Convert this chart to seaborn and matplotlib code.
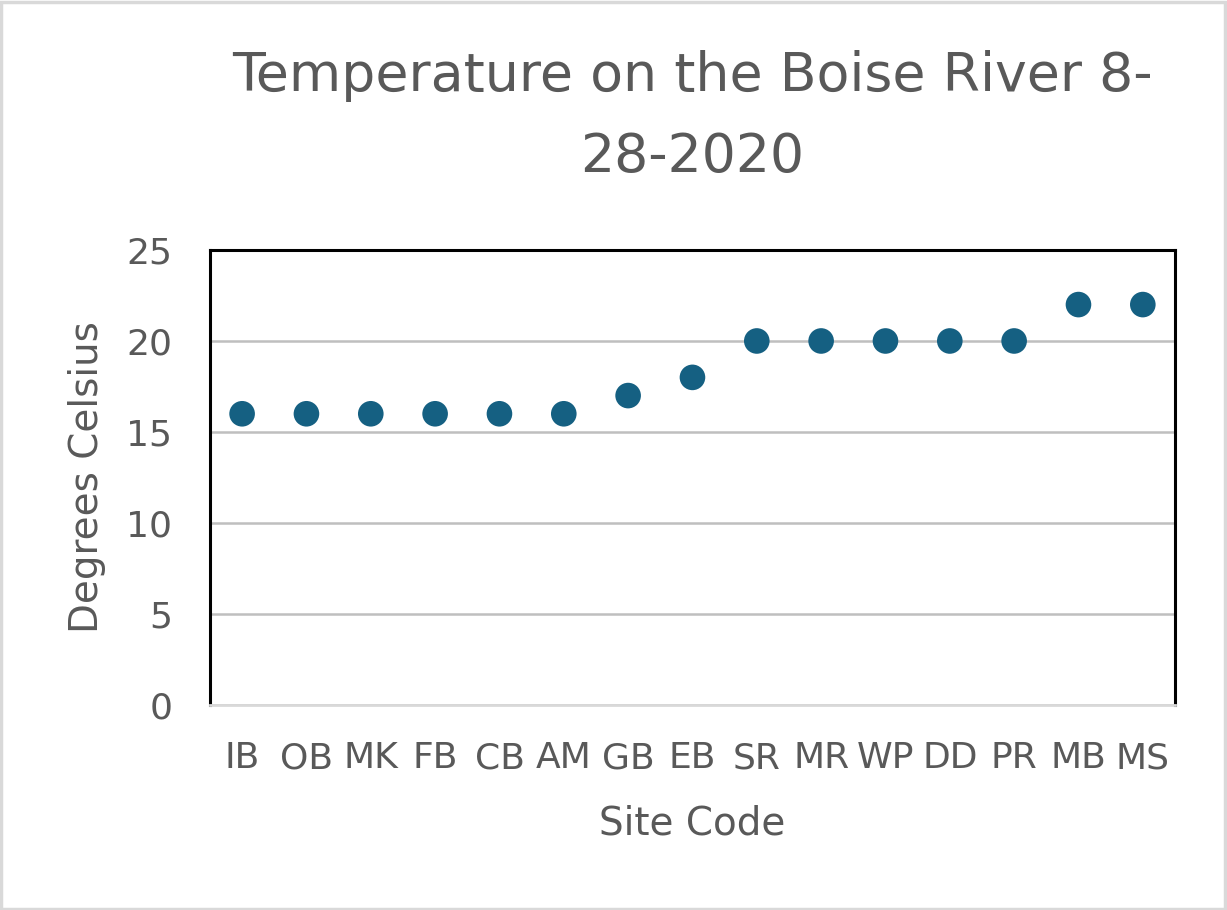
import matplotlib
matplotlib.use("Agg")
import matplotlib.pyplot as plt
import seaborn as sns
import pandas as pd

sites = ["IB", "OB", "MK", "FB", "CB", "AM", "GB", "EB",
         "SR", "MR", "WP", "DD", "PR", "MB", "MS"]
temps = [16, 16, 16, 16, 16, 16, 17, 18, 20, 20, 20, 20, 20, 22, 22]
y_ticks = [0, 5, 10, 15, 20, 25]

df = pd.DataFrame({"Site Code": sites, "Degrees Celsius": temps})

sns.set_style("white")
plt.rcParams['font.family'] = ['DejaVu Sans']
text_color = "#595959"

fig = plt.figure(figsize=(12.27, 9.10), dpi=100)
ax = fig.add_axes([0.1711, 0.2253, 0.7865, 0.5])

sns.scatterplot(data=df, x="Site Code", y="Degrees Celsius", ax=ax,
                color="#156082", s=340, edgecolor="none", zorder=3)

ax.set_xlim(-0.5, len(sites) - 0.5)
ax.set_ylim(0, 25)
ax.set_yticks(y_ticks)
ax.yaxis.grid(True, color="#BFBFBF", linewidth=1.8, zorder=0)
ax.set_axisbelow(True)

for side in ["left", "top", "right"]:
    ax.spines[side].set_color("black")
    ax.spines[side].set_linewidth(2.2)
ax.spines["bottom"].set_color("#D9D9D9")
ax.spines["bottom"].set_linewidth(2.0)

ax.tick_params(axis="x", labelsize=26, colors=text_color, length=0, pad=26)
ax.tick_params(axis="y", labelsize=26, colors=text_color, length=0, pad=27)

ax.set_xlabel("Site Code", fontsize=28, color=text_color, labelpad=21)
ax.set_ylabel("Degrees Celsius", fontsize=28, color=text_color, labelpad=15)
ax.set_title("Temperature on the Boise River 8-\n28-2020", fontsize=38.7,
             color=text_color, pad=56, linespacing=1.72)

# light border around the whole chart area
fig.patches.append(plt.Rectangle((0.001, 0.001), 0.997, 0.997, transform=fig.transFigure,
                                 fill=False, edgecolor="#D9D9D9", linewidth=2.5))

fig.savefig("out.png", dpi=100)
